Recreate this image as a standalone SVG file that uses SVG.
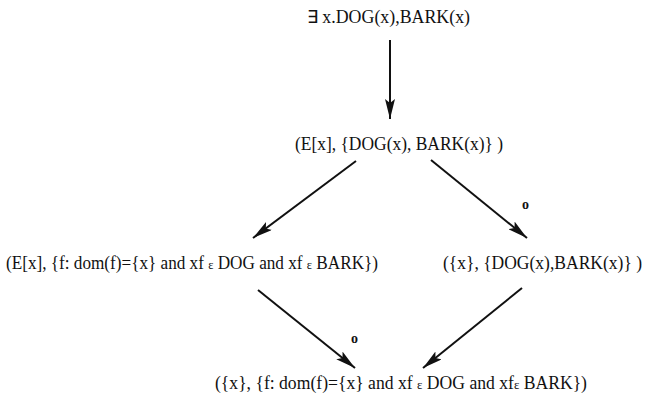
<svg xmlns="http://www.w3.org/2000/svg" width="647" height="403" viewBox="0 0 647 403">
<style>
text{font-family:"Liberation Serif","Times New Roman",serif;font-size:18px;fill:#111}
.eps{font-size:13px}
.lbl{font-size:14px;font-weight:bold}
.c line{stroke:#111;stroke-width:2}
</style>
<defs>
<marker id="ah" viewBox="0 0 20 10" refX="20" refY="5" markerWidth="20" markerHeight="10" markerUnits="userSpaceOnUse" orient="auto">
<path d="M0,0 L20,5 L0,10 L4,5 Z" fill="#111"/>
</marker>
</defs>
<rect width="647" height="403" fill="#fff"/>
<g id="n1"><text x="307" y="23" textLength="163" lengthAdjust="spacingAndGlyphs">∃ x.DOG(x),BARK(x)</text></g>
<g id="n2"><text x="295" y="150" textLength="208" lengthAdjust="spacingAndGlyphs">(E[x], {DOG(x), BARK(x)} )</text></g>
<g id="n3"><text x="6" y="269" textLength="372" lengthAdjust="spacingAndGlyphs">(E[x], {f: dom(f)={x} and xf  <tspan class="eps">ε</tspan>  DOG  and xf <tspan class="eps">ε</tspan>  BARK})</text></g>
<g id="n4"><text x="443" y="269" textLength="199" lengthAdjust="spacingAndGlyphs">({x}, {DOG(x),BARK(x)} )</text></g>
<g id="n5"><text x="215" y="389" textLength="372" lengthAdjust="spacingAndGlyphs">({x}, {f: dom(f)={x} and xf <tspan class="eps">ε</tspan> DOG and xf<tspan class="eps">ε</tspan> BARK})</text></g>
<g class="c" id="connectors">
<line x1="390" y1="40" x2="390" y2="119" marker-end="url(#ah)"/>
<line x1="356" y1="161" x2="253" y2="238" marker-end="url(#ah)"/>
<line x1="431" y1="160" x2="527" y2="238" marker-end="url(#ah)"/>
<line x1="258" y1="290" x2="355" y2="368" marker-end="url(#ah)"/>
<line x1="522" y1="288" x2="423" y2="368" marker-end="url(#ah)"/>
<text class="lbl" x="522" y="209">o</text>
<text class="lbl" x="351" y="343">o</text>
</g>
</svg>
